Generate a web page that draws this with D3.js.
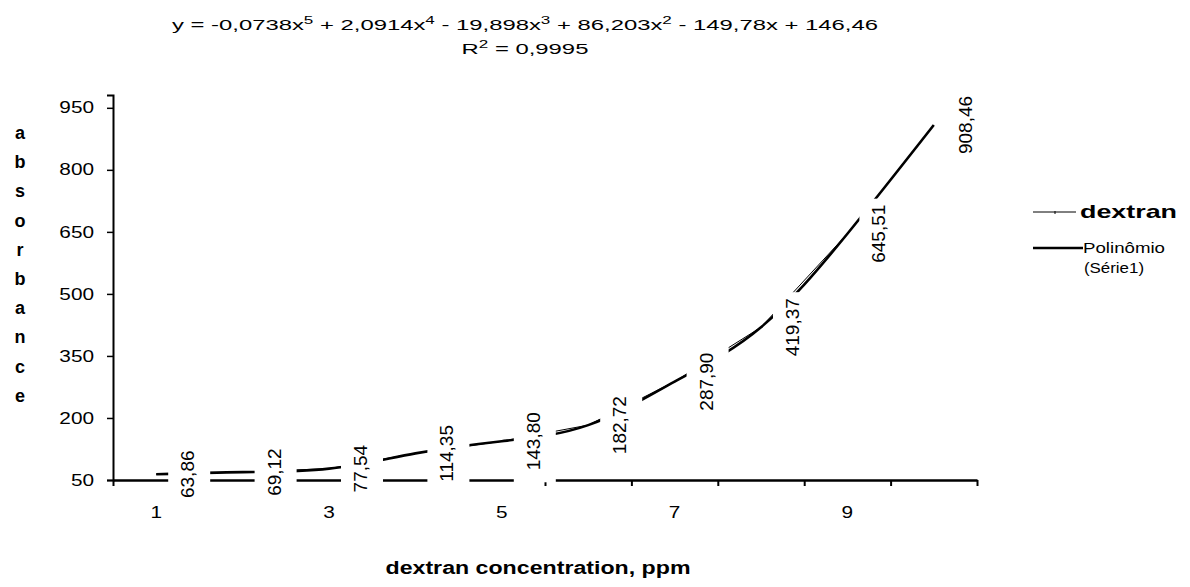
<!DOCTYPE html>
<html>
<head>
<meta charset="utf-8">
<script src="https://d3js.org/d3.v7.min.js"></script>
<style>
  body { margin: 0; background: #fff; }
  text { font-family: "Liberation Sans", Arial, sans-serif; fill: #000; }
</style>
</head>
<body>
<svg width="1190" height="587"></svg>
<script>
// data
const concentration = [1, 2, 3, 4, 5, 6, 7, 8, 9, 10];
const absorbance = [63.86, 69.12, 77.54, 114.35, 143.80, 182.72, 287.90, 419.37, 645.51, 908.46];
const yTicks = [50, 200, 350, 500, 650, 800, 950];
const xTickLabels = [1, 3, 5, 7, 9];
const yTitle = "absorbance";
const xTitle = "dextran concentration, ppm";
const legendNames = ["dextran", "Polinômio", "(Série1)"];
const eqParts = [["y = -0,0738x", "5"], [" + 2,0914x", "4"], [" - 19,898x", "3"], [" + 86,203x", "2"], [" - 149,78x  + 146,46", null]];

const svg = d3.select("svg");

var x = d3.scaleLinear().domain([0.5, 10.5]).range([113, 977]);
var y = d3.scaleLinear().domain([50, 981]).range([480, 95]);

const comma = v => d3.format(".2f")(v).replace(".", ",");

// equation + R2
var eq = svg.append("text").attr("x", 525).attr("y", 30)
    .attr("text-anchor", "middle").style("font-size", "14px");
var shift = 0;
eqParts.forEach(p => {
    eq.append("tspan").attr("dy", shift).text(p[0]);
    shift = 0;
    if (p[1]) {
        eq.append("tspan").attr("dy", -6).style("font-size", "10px").text(p[1]);
        shift = 6;
    }
});
var natural = eq.node().getComputedTextLength();
var stretch = 706 / natural;
eq.attr("textLength", 706).attr("lengthAdjust", "spacingAndGlyphs");

var r2 = svg.append("text").attr("x", 525).attr("y", 54)
    .attr("text-anchor", "middle").style("font-size", "14px");
r2.append("tspan").text("R");
r2.append("tspan").attr("dy", -6).style("font-size", "10px").text("2");
r2.append("tspan").attr("dy", 6).text(" = 0,9995");
r2.attr("textLength", r2.node().getComputedTextLength() * stretch).attr("lengthAdjust", "spacingAndGlyphs");

// axes
var yAxis = svg.append("g").attr("transform", "translate(113,0)")
    .call(d3.axisLeft(y).tickValues(yTicks).tickSize(6).tickPadding(8.6));
yAxis.select(".domain").attr("stroke-width", 2);
yAxis.selectAll("line").attr("stroke-width", 1.5);
yAxis.selectAll("text").style("font-size", "16px").attr("font-family", null)
    .attr("transform", "scale(1.3,1)");

var xTickPos = d3.range(0, 11).map(i => i + 0.5);
var xAxis = svg.append("g").attr("transform", "translate(0,480)")
    .call(d3.axisBottom(x).tickValues(xTickPos).tickSize(6).tickFormat("").tickSizeOuter(0));
xAxis.select(".domain").attr("stroke-width", 2.5);
xAxis.selectAll("line").attr("stroke-width", 2);

svg.append("g").selectAll("text").data(xTickLabels).enter().append("text")
    .attr("transform", d => "translate(" + x(d) + ",518) scale(1.3,1)")
    .attr("text-anchor", "middle").style("font-size", "16px")
    .text(d => d);

// trendline (thick) and series line (thin)
var pts = concentration.map((c, i) => [x(c), y(absorbance[i])]);
svg.append("path").datum(pts)
    .attr("d", d3.line().curve(d3.curveNatural))
    .attr("fill", "none").attr("stroke", "#000").attr("stroke-width", 2.6);
svg.append("path").datum(pts)
    .attr("d", d3.line())
    .attr("fill", "none").attr("stroke", "#000").attr("stroke-width", 1);

// data labels with white boxes
var labels = svg.append("g");
concentration.forEach((c, i) => {
    var px = x(c), py = y(absorbance[i]);
    var box = labels.append("rect").attr("fill", "#fff");
    var t = labels.append("text")
        .attr("transform", "translate(" + (px + 38) + "," + py + ") rotate(-90)")
        .attr("text-anchor", "middle").style("font-size", "19px")
        .text(comma(absorbance[i]));
    var len = t.node().getComputedTextLength();
    box.attr("x", px + 12).attr("width", 42)
       .attr("y", py - len / 2 - 6).attr("height", len + 18);
});

// y title, stacked letters
svg.append("g").selectAll("text").data(yTitle.split("")).enter().append("text")
    .attr("x", 20).attr("y", (d, i) => 139 + i * 29.2)
    .attr("text-anchor", "middle").style("font-size", "18px").style("font-weight", "bold")
    .text(d => d);

// x title
svg.append("text").attr("x", 538).attr("y", 574).attr("text-anchor", "middle")
    .style("font-size", "18px").style("font-weight", "bold")
    .attr("textLength", 305).attr("lengthAdjust", "spacingAndGlyphs")
    .text(xTitle);

// legend
var lg = svg.append("g");
lg.append("line").attr("x1", 1033).attr("x2", 1076).attr("y1", 212).attr("y2", 212)
    .attr("stroke", "#000").attr("stroke-width", 1);
lg.append("line").attr("x1", 1055).attr("x2", 1055).attr("y1", 211).attr("y2", 214)
    .attr("stroke", "#000").attr("stroke-width", 1);
lg.append("text").attr("x", 1080).attr("y", 218).style("font-size", "19px").style("font-weight", "bold")
    .attr("textLength", 97).attr("lengthAdjust", "spacingAndGlyphs").text(legendNames[0]);
lg.append("line").attr("x1", 1033).attr("x2", 1083).attr("y1", 248).attr("y2", 248)
    .attr("stroke", "#000").attr("stroke-width", 2.6);
lg.append("text").attr("x", 1083).attr("y", 253).style("font-size", "14px")
    .attr("textLength", 82).attr("lengthAdjust", "spacingAndGlyphs").text(legendNames[1]);
lg.append("text").attr("x", 1084).attr("y", 273).style("font-size", "14px")
    .attr("textLength", 60).attr("lengthAdjust", "spacingAndGlyphs").text(legendNames[2]);
</script>
</body>
</html>
